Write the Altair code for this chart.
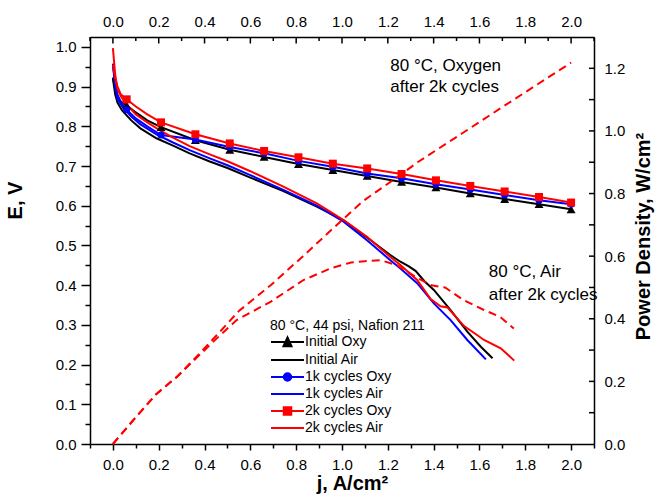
import altair as alt
import pandas as pd

FONT = "Liberation Sans"
W, H = 504, 407

# ---------------- data ----------------
series_order = ["Initial Oxy", "Initial Air", "1k cycles Oxy", "1k cycles Air", "2k cycles Oxy", "2k cycles Air"]
series_colors = ["#000000", "#000000", "#0000ff", "#0000ff", "#ff0000", "#ff0000"]

# oxygen polarization curves (line) ; markers at marker_j
j_oxy = [0, 0.01, 0.02, 0.035, 0.06, 0.1, 0.15, 0.21, 0.36, 0.51, 0.66, 0.81, 0.96, 1.11, 1.26, 1.41, 1.56, 1.71, 1.86, 2.0]
E_init_oxy = [0.923, 0.895, 0.875, 0.862, 0.853, 0.835, 0.815, 0.798, 0.765, 0.741, 0.723, 0.705, 0.69, 0.675, 0.66, 0.646, 0.631, 0.617, 0.604, 0.591]
E_1k_oxy = [0.958, 0.91, 0.88, 0.86, 0.842, 0.82, 0.8, 0.778, 0.767, 0.748, 0.732, 0.713, 0.698, 0.681, 0.669, 0.654, 0.641, 0.627, 0.614, 0.604]
E_2k_oxy = [0.955, 0.92, 0.9, 0.88, 0.868, 0.85, 0.83, 0.81, 0.78, 0.757, 0.738, 0.722, 0.706, 0.694, 0.68, 0.664, 0.65, 0.636, 0.622, 0.608]
marker_j = [0.06, 0.21, 0.36, 0.51, 0.66, 0.81, 0.96, 1.11, 1.26, 1.41, 1.56, 1.71, 1.86, 2.0]

# air polarization curves
j_init_air = [0, 0.01, 0.02, 0.04, 0.08, 0.12, 0.19, 0.26, 0.335, 0.42, 0.5, 0.6, 0.744, 0.89, 1.007, 1.109, 1.211, 1.255, 1.29, 1.321, 1.36, 1.401, 1.474, 1.547, 1.606, 1.657]
E_init_air = [0.92, 0.88, 0.86, 0.84, 0.815, 0.795, 0.77, 0.752, 0.732, 0.712, 0.695, 0.671, 0.637, 0.598, 0.563, 0.52, 0.476, 0.459, 0.448, 0.436, 0.41, 0.388, 0.337, 0.283, 0.245, 0.216]
j_1k_air = [0, 0.01, 0.02, 0.04, 0.08, 0.12, 0.19, 0.26, 0.335, 0.42, 0.5, 0.6, 0.744, 0.89, 1.007, 1.109, 1.211, 1.255, 1.328, 1.401, 1.474, 1.547, 1.628]
E_1k_air = [0.955, 0.9, 0.87, 0.85, 0.825, 0.805, 0.78, 0.76, 0.74, 0.72, 0.702, 0.677, 0.64, 0.6, 0.56, 0.513, 0.463, 0.442, 0.405, 0.354, 0.312, 0.262, 0.213]
j_2k_air = [0, 0.01, 0.02, 0.035, 0.06, 0.1, 0.15, 0.2, 0.26, 0.335, 0.42, 0.5, 0.6, 0.744, 0.89, 1.007, 1.109, 1.211, 1.255, 1.328, 1.387, 1.43, 1.46, 1.533, 1.591, 1.62, 1.693, 1.752]
E_2k_air = [0.997, 0.93, 0.895, 0.875, 0.855, 0.83, 0.81, 0.792, 0.772, 0.75, 0.73, 0.712, 0.687, 0.648, 0.606, 0.564, 0.522, 0.471, 0.451, 0.413, 0.365, 0.347, 0.344, 0.297, 0.274, 0.262, 0.241, 0.21]

# power density after 2k cycles (right axis)
j_pd_oxy = [0, 0.09, 0.19, 0.28, 0.365, 0.45, 0.55, 0.69, 0.83, 0.96, 1.09, 1.26, 1.33, 1.53, 1.75, 2.0]
P_pd_oxy = [0, 0.077, 0.16, 0.215, 0.279, 0.345, 0.425, 0.508, 0.6, 0.688, 0.775, 0.862, 0.9, 0.995, 1.1, 1.218]
j_pd_air = [0, 0.09, 0.19, 0.28, 0.365, 0.45, 0.54, 0.69, 0.83, 0.95, 1.04, 1.1, 1.17, 1.24, 1.33, 1.39, 1.45, 1.53, 1.62, 1.69, 1.75]
P_pd_air = [0, 0.077, 0.16, 0.215, 0.275, 0.335, 0.396, 0.455, 0.523, 0.561, 0.58, 0.584, 0.587, 0.571, 0.53, 0.507, 0.5, 0.46, 0.428, 0.406, 0.369]

# annotations
ann_text = ["80 °C, Oxygen", "after 2k cycles", "80 °C, Air", "after 2k cycles"]
ann_j = [1.211, 1.211, 1.641, 1.641]
ann_E = [0.939, 0.886, 0.42, 0.362]

# axis ticks
x_ticks = [round(-0.1 + 0.1 * i, 2) for i in range(23)]
x_labels = [round(0.2 * i, 1) for i in range(11)]
e_ticks = [round(0.05 * i, 2) for i in range(21)]
p_labels = [round(0.2 * i, 1) for i in range(7)]
p_ticks = [round(0.1 * i, 1) for i in range(1, 13)]

# ---------------- frames ----------------
def frame(name, js, vals, col):
    return pd.DataFrame({"series": name, "j": js, col: vals})

lines = {
    "Initial Air": frame("Initial Air", j_init_air, E_init_air, "E"),
    "Initial Oxy": frame("Initial Oxy", j_oxy, E_init_oxy, "E"),
    "1k cycles Air": frame("1k cycles Air", j_1k_air, E_1k_air, "E"),
    "1k cycles Oxy": frame("1k cycles Oxy", j_oxy, E_1k_oxy, "E"),
    "2k cycles Air": frame("2k cycles Air", j_2k_air, E_2k_air, "E"),
    "2k cycles Oxy": frame("2k cycles Oxy", j_oxy, E_2k_oxy, "E"),
}
color_of = dict(zip(series_order, series_colors))
pd_df = pd.concat([frame("oxy", j_pd_oxy, P_pd_oxy, "P"), frame("air", j_pd_air, P_pd_air, "P")])
ann_df = pd.DataFrame({"j": ann_j, "E": ann_E, "text": ann_text})
xt_df = pd.DataFrame({"j": x_ticks, "major": [abs(round(v * 10)) % 2 == 0 for v in x_ticks]})
pt_df = pd.DataFrame({"P": p_ticks})

xscale = alt.Scale(domain=[-0.1, 2.1], nice=False, zero=False)
yscale = alt.Scale(domain=[0, 1.025], nice=False, zero=False)
pscale = alt.Scale(domain=[0, 1.3], nice=False, zero=False)

common_axis = dict(grid=False, domainColor="black", domainWidth=1.5, tickColor="black", tickWidth=1.5,
                   labelFont=FONT, labelFontSize=15, labelColor="black", labelOverlap=False, labelFlush=False,
                   titleFont=FONT, titleFontSize=20, titleFontWeight="bold", titleColor="black")

x_bottom = alt.X("j:Q", scale=xscale, axis=alt.Axis(
    orient="bottom", values=x_ticks, title="j, A/cm²",
    labelExpr="abs(round(datum.value*10)) % 2 == 0 ? format(datum.value, '.1f') : ''",
    tickSize={"condition": {"test": "abs(round(datum.value*10)) % 2 == 0", "value": 6}, "value": 4},
    labelPadding=7, titleX=262, titleY=45, titleAlign="center", titleBaseline="alphabetic",
    **common_axis))
y_left = alt.Y("E:Q", scale=yscale, axis=alt.Axis(
    orient="left", values=e_ticks, title="E, V",
    labelExpr="round(datum.value*20) % 2 == 0 ? format(datum.value, '.1f') : ''",
    tickSize={"condition": {"test": "round(datum.value*20) % 2 == 0", "value": 9}, "value": 5},
    labelPadding=5, titleAngle=270, titleX=-75, titleY=163, titleAlign="center", titleBaseline="middle",
    **common_axis))

# ---------------- left (E) layers ----------------
a_layers = []
for name in ["Initial Air", "Initial Oxy", "1k cycles Air", "1k cycles Oxy", "2k cycles Air", "2k cycles Oxy"]:
    a_layers.append(
        alt.Chart(lines[name]).mark_line(color=color_of[name], strokeWidth=2).encode(
            x=x_bottom, y=y_left, order="j:Q")
    )

marker_shapes = {"Initial Oxy": ("triangle-up", 80), "1k cycles Oxy": ("circle", 50), "2k cycles Oxy": ("square", 64)}
for name, (shp, sz) in marker_shapes.items():
    mdf = lines[name][lines[name]["j"].isin(marker_j)]
    a_layers.append(
        alt.Chart(mdf).mark_point(shape=shp, size=sz, filled=True, opacity=1, color=color_of[name]).encode(
            x=x_bottom, y=y_left)
    )

# legend (symbols with line + marker); symbol unit = 5 px, line 33 px long
legend_paths = [
    "M-1.2,0H5.4M1.3,0.85L2.1,-0.9L2.9,0.85Z",
    "M-1.2,0H5.4",
    "M2.85,0A0.75,0.75,0,1,1,1.35,0A0.75,0.75,0,1,1,2.85,0ZM-1.2,0H5.4",
    "M-1.2,0H5.4",
    "M1.35,-0.75H2.85V0.75H1.35ZM-1.2,0H5.4",
    "M-1.2,0H5.4",
]
leg = alt.Legend(orient="none", legendX=180, legendY=282, title="80 °C, 44 psi, Nafion 211",
                 titleFont=FONT, titleFontSize=14, titleFontWeight="normal", titleColor="black", titlePadding=2,
                 labelFont=FONT, labelFontSize=14, labelColor="black", labelOffset=21,
                 symbolSize=100, symbolStrokeWidth=2, symbolOpacity=1, rowPadding=2, padding=0)
leg_df = pd.DataFrame({"series": series_order, "j": [0.0] * 6, "E": [0.0] * 6})
a_layers.append(
    alt.Chart(leg_df).transform_filter("datum.j > 5").mark_point(filled=True, opacity=1, strokeWidth=2).encode(
        x=x_bottom, y=y_left,
        shape=alt.Shape("series:N", scale=alt.Scale(domain=series_order, range=legend_paths), legend=leg),
        fill=alt.Fill("series:N", scale=alt.Scale(domain=series_order, range=series_colors), legend=leg),
        stroke=alt.Stroke("series:N", scale=alt.Scale(domain=series_order, range=series_colors), legend=leg),
    )
)

a_layers.append(
    alt.Chart(ann_df).mark_text(font=FONT, fontSize=17, align="left", baseline="alphabetic", color="black").encode(
        x=x_bottom, y=y_left, text="text:N")
)

# inward ticks on the top axis
a_layers.append(alt.Chart(xt_df).transform_filter("datum.major").mark_rule(color="black", strokeWidth=1.5).encode(
    x=x_bottom, y=alt.value(0), y2=alt.value(6.5)))
a_layers.append(alt.Chart(xt_df).transform_filter("!datum.major").mark_rule(color="black", strokeWidth=1.5).encode(
    x=x_bottom, y=alt.value(0), y2=alt.value(4)))

left_part = alt.layer(*a_layers)

# ---------------- right (power density) layers ----------------
x_top = alt.X("j:Q", scale=xscale, axis=alt.Axis(
    orient="top", values=x_labels, format=".1f", title=None, ticks=False, tickSize=0, labelPadding=8,
    **common_axis))
y_right = alt.Y("P:Q", scale=pscale, axis=alt.Axis(
    orient="right", values=p_labels, format=".1f", title="Power Density, W/cm²", ticks=False, tickSize=0,
    labelPadding=10, titleAngle=270, titleX=49, titleY=199, titleAlign="center", titleBaseline="middle",
    **common_axis))

pd_lines = alt.Chart(pd_df).mark_line(color="#ff0000", strokeWidth=2, strokeDash=[8, 5]).encode(
    x=x_top, y=y_right, detail="series:N", order="j:Q")
p_tick_rules = alt.Chart(pt_df).mark_rule(color="black", strokeWidth=1.5).encode(
    y=y_right, x=alt.value(W), x2=alt.value(W - 5))

right_part = alt.layer(pd_lines, p_tick_rules)

chart = alt.layer(left_part, right_part).resolve_scale(y="independent").resolve_axis(x="independent").properties(
    width=W, height=H, autosize=alt.AutoSizeParams(type="none"),
    padding={"left": 90, "top": 37, "right": 64, "bottom": 51},
    background="white",
).configure_view(stroke=None)

chart.save("out.html", embed_options={"renderer": "svg", "actions": False})
